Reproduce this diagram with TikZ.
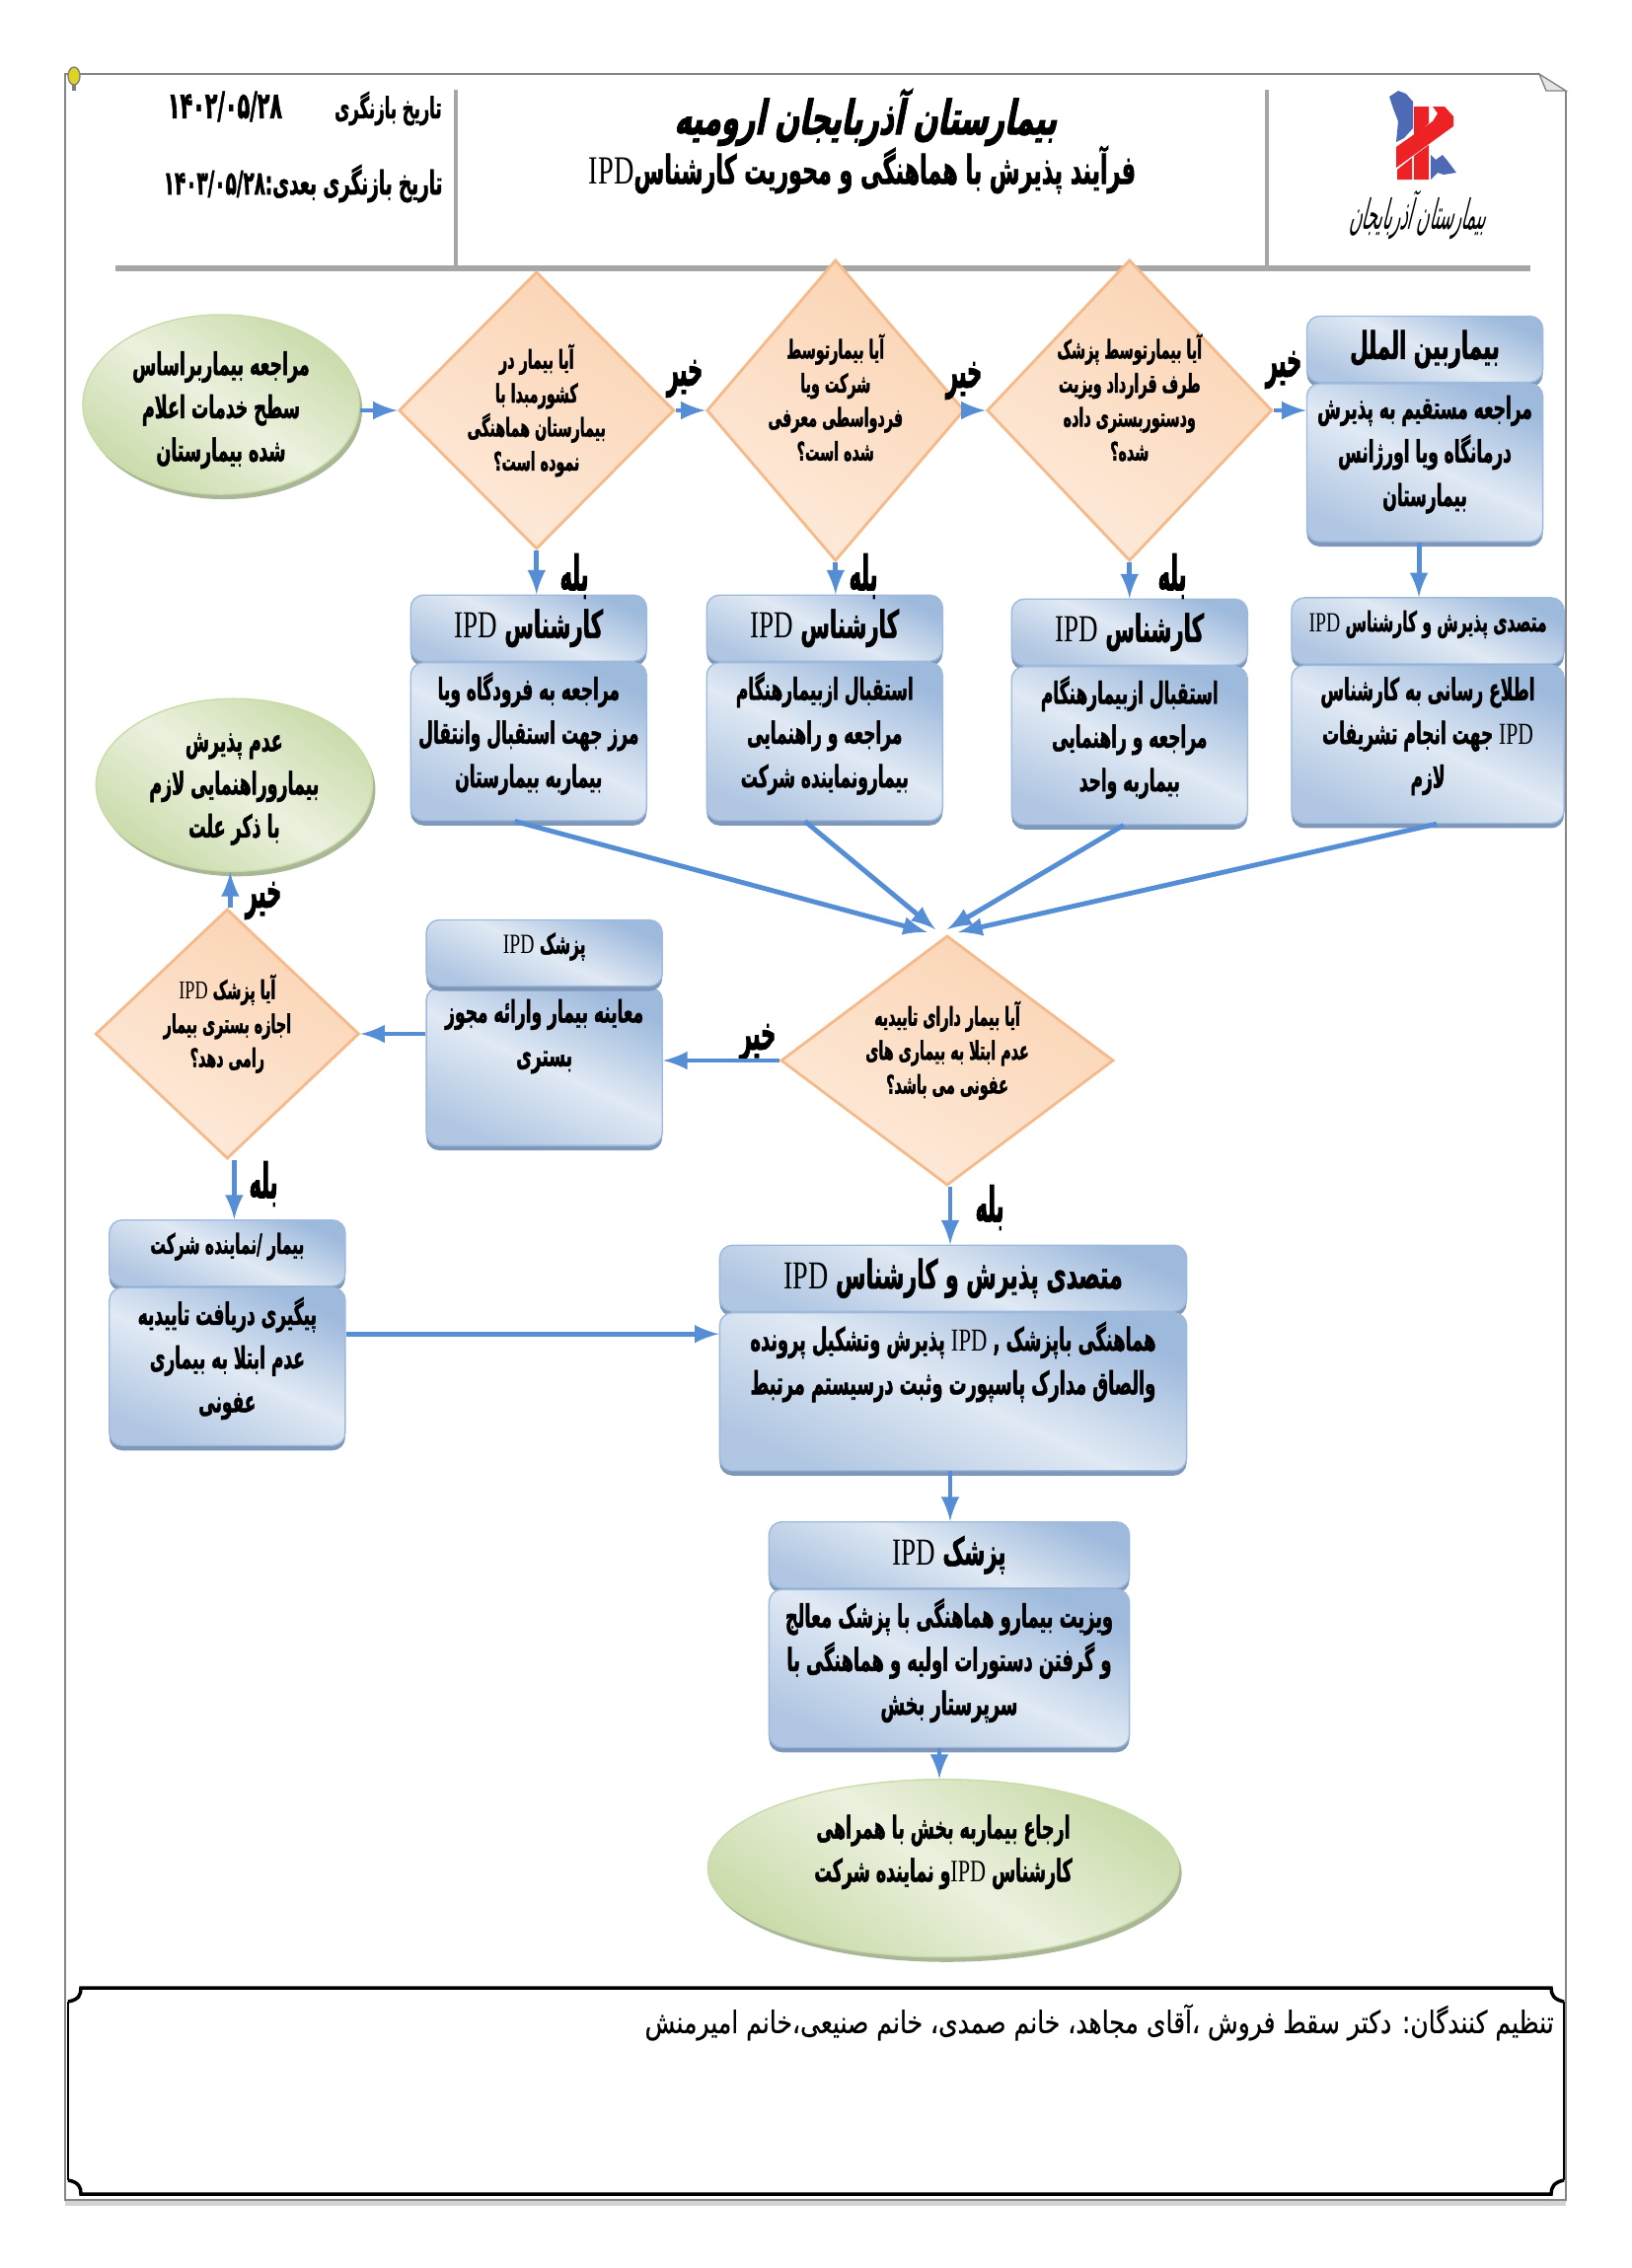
\documentclass[tikz,border=0pt]{standalone}
\usepackage{fontspec}
\usetikzlibrary{shapes.geometric,arrows,positioning,shadows}
\TeXXeTstate=1
\newfontfamily\arabicfont[Script=Arabic,FakeStretch=0.55,BoldFeatures={FakeBold=1.4}]{DejaVu Sans}
\newfontfamily\titlefont[Script=Arabic,FakeStretch=0.6,FakeSlant=0.2,BoldFeatures={FakeBold=2}]{DejaVu Sans}
\newfontfamily\plainfont[Script=Arabic,FakeStretch=0.8,FakeBold=.5]{DejaVu Sans}
\newfontfamily\answerfont[Script=Arabic,FakeStretch=0.42,BoldFeatures={FakeBold=1.6}]{DejaVu Sans}
\newfontfamily\logofont[Script=Arabic,FakeStretch=0.4]{DejaVu Sans}
\newfontfamily\latinfont[FakeStretch=0.7]{Liberation Serif}
\newcommand{\rtl}[1]{\beginR #1\endR}
\newcommand{\ipd}{{\latinfont\mdseries\beginL IPD\endL}}
\newcommand{\liftedtext}[2][.02cm]{\raisebox{#1}[0pt][0pt]{\begin{tabular}[c]{@{}c@{}}#2\end{tabular}}}
\definecolor{flow}{HTML}{558ED5}
\definecolor{bluedark}{HTML}{9DB9DC}
\definecolor{bluepale}{HTML}{B0C6E2}
\definecolor{bluelight}{HTML}{E0E9F4}
\definecolor{blueshadow}{HTML}{7F97B8}
\definecolor{peachdark}{HTML}{FBD4B4}
\definecolor{peachlight}{HTML}{FDEADA}
\definecolor{peachline}{HTML}{F6B98A}
\definecolor{greendark}{HTML}{CADBAA}
\definecolor{greenlight}{HTML}{EBF1DE}
\definecolor{greenshadow}{HTML}{A9B796}
\definecolor{frame}{HTML}{A6A6A6}
\definecolor{logoblue}{HTML}{4F6AB5}
\definecolor{logored}{HTML}{ED2224}
\tikzstyle{terminal} = [ellipse, inner sep=0pt, align=center, draw=greendark, top color=greendark, bottom color=greendark, middle color=greenlight, shading angle=-35, drop shadow={shadow xshift=.03cm, shadow yshift=-.05cm, fill=greenshadow, opacity=1}, font=\arabicfont\bfseries\fontsize{9}{12.4}\selectfont]
\tikzstyle{decision} = [diamond, inner sep=0pt, align=center, draw=peachline, thick, top color=peachdark, bottom color=peachlight, shading angle=-30, font=\arabicfont\bfseries\fontsize{7.4}{9.8}\selectfont]
\tikzstyle{headbox} = [rectangle, rounded corners=.13cm, inner sep=1pt, align=center, draw=bluedark, top color=bluedark, bottom color=bluepale, middle color=bluelight, shading angle=-25, drop shadow={shadow xshift=0cm, shadow yshift=-.05cm, fill=blueshadow, opacity=1}, minimum width=2.39cm, minimum height=.67cm, font=\arabicfont\bfseries\fontsize{11}{14}\selectfont]
\tikzstyle{smallhead} = [text depth=.2cm, font=\arabicfont\bfseries\fontsize{8}{10}\selectfont]
\tikzstyle{bodybox} = [headbox, minimum height=1.6cm, text depth=.24cm, font=\arabicfont\bfseries\fontsize{8.8}{12.6}\selectfont]
\tikzstyle{widebody} = [font=\arabicfont\bfseries\fontsize{9.2}{12.6}\selectfont]
\tikzstyle{answer} = [font=\answerfont\bfseries\fontsize{14}{16}\selectfont]
\tikzstyle{arrow} = [draw=flow, line width=1.4pt, ->, >=latex]
\begin{document}
\begin{tikzpicture}[x=.01cm, y=-.01cm]
    \useasboundingbox (0,0) rectangle (1654,2299);
    % page
    \fill[frame!50] (66,2230) rectangle (1587,2236);
    \draw[frame!80!black, thin] (1560,75) -- (66,75) -- (66,2230) -- (1587,2230) -- (1587,92);
    \filldraw[draw=frame!80!black, fill=black!10, thin] (1560,75) -- (1587,92) -- (1567,92) -- cycle;
    \filldraw[draw=black!50, fill=yellow!85!black, thin] (75,77) ellipse (6 and 9);
    \draw[black!50, line width=1pt] (75,86) -- (75,92);
    % header
    \draw[frame, line width=1.4pt] (462,91) -- (462,272);
    \draw[frame, line width=1.4pt] (1284,91) -- (1284,272);
    \draw[frame, line width=1.8pt] (117,272) -- (1551,272);
    \node (review) [anchor=east, font=\arabicfont\bfseries\fontsize{8.5}{10}\selectfont] at (460,110) {\rtl{تاریخ بازنگری}};
    \node (reviewdate) [font=\arabicfont\bfseries\fontsize{10.7}{12}\selectfont] at (228,108) {\beginL ۱۴۰۲/۰۵/۲۸\endL};
    \node (nextreview) [anchor=east, font=\arabicfont\bfseries\fontsize{9.5}{11}\selectfont] at (461,186) {\rtl{تاریخ بازنگری بعدی:\beginL ۱۴۰۳/۰۵/۲۸\endL}};
    \node (hospital) [font=\titlefont\bfseries\fontsize{13.7}{16}\selectfont] at (877,119) {\rtl{بیمارستان آذربایجان ارومیه}};
    \node (processtitle) [font=\arabicfont\bfseries\fontsize{11.5}{15}\selectfont] at (874,172) {\rtl{فرآیند پذیرش با هماهنگی و محوریت کارشناس\ipd}};
    % logo
    \fill[logoblue] (1408,98) -- (1417,92) -- (1425,95) -- (1432,103) -- (1432,130) -- (1423,140) -- (1415,144) -- (1417,123) -- (1412,110) -- cycle;
    \fill[logoblue] (1450,157) -- (1455,162) -- (1462,157) -- (1467,163) -- (1476,175) -- (1463,177) -- (1457,175) -- (1450,182) -- cycle;
    \fill[logored] (1433,108) -- (1448,108) -- (1448,125) -- (1433,138) -- cycle;
    \fill[logored] (1452,108) -- (1464,108) -- (1473,118) -- (1473,128) -- (1415,170) -- (1415,149) -- (1452,123) -- (1457,115) -- cycle;
    \fill[logored] (1416,172) -- (1431,160) -- (1431,182) -- (1416,182) -- cycle;
    \fill[logored] (1433,158) -- (1448,147) -- (1448,182) -- (1433,182) -- cycle;
    \node (logotext) [xslant=.25, font=\logofont\fontsize{12}{14}\selectfont] at (1440,218) {\rtl{بیمارستان آذربایجان}};

    % first row
    \node (start) [terminal, minimum width=2.8cm, minimum height=1.82cm] at (224,410) {\liftedtext[-.13cm]{\rtl{مراجعه بیماربراساس}\\\rtl{سطح خدمات اعلام}\\\rtl{شده بیمارستان}}};
    \node (decision1) [decision, right=.38cm of start, yshift=-.06cm, minimum width=2.79cm, minimum height=2.81cm] {\rtl{آیا بیمار در}\\\rtl{کشورمبدا با}\\\rtl{بیمارستان هماهنگی}\\\rtl{نموده است؟}};
    \node (decision2) [decision, right=.3cm of decision1, minimum width=2.61cm, minimum height=3.05cm] {\liftedtext{\rtl{آیا بیمارتوسط}\\\rtl{شرکت ویا}\\\rtl{فردواسطی معرفی}\\\rtl{شده است؟}}};
    \node (decision3) [decision, right=.2cm of decision2, minimum width=2.89cm, minimum height=3.05cm] {\liftedtext{\rtl{آیا بیمارتوسط پزشک}\\\rtl{طرف قرارداد ویزیت}\\\rtl{ودستوربستری داده}\\\rtl{شده؟}}};
    \node (title4) [headbox, right=.33cm of decision3, yshift=.62cm] {\rtl{بیماربین الملل}};
    \node (process4) [bodybox, below=0cm of title4] {\rtl{مراجعه مستقیم به پذیرش}\\\rtl{درمانگاه ویا اورژانس}\\\rtl{بیمارستان}};

    % second row
    \node (title1) [headbox, below=.445cm of decision1, xshift=-.08cm] {\rtl{کارشناس \ipd}};
    \node (process1) [bodybox, below=0cm of title1] {\rtl{مراجعه به فرودگاه ویا}\\\rtl{مرز جهت استقبال وانتقال}\\\rtl{بیماربه بیمارستان}};
    \node (title2) [headbox, below=.325cm of decision2, xshift=-.11cm] {\rtl{کارشناس \ipd}};
    \node (process2) [bodybox, below=0cm of title2] {\rtl{استقبال ازبیمارهنگام}\\\rtl{مراجعه و راهنمایی}\\\rtl{بیمارونماینده شرکت}};
    \node (title3) [headbox, below=.365cm of decision3] {\rtl{کارشناس \ipd}};
    \node (process3) [bodybox, below=0cm of title3] {\rtl{استقبال ازبیمارهنگام}\\\rtl{مراجعه و راهنمایی}\\\rtl{بیماربه واحد}};
    \node (title5) [headbox, smallhead, below=.555cm of process4, xshift=.03cm, minimum width=2.76cm] {\rtl{متصدی پذیرش و کارشناس \ipd}};
    \node (process5) [bodybox, below=0cm of title5, minimum width=2.76cm] {\rtl{اطلاع رسانی به کارشناس}\\\rtl{\ipd{} جهت انجام تشریفات}\\\rtl{لازم}};

    % third row
    \node (decision4) [decision, minimum width=3.37cm, minimum height=2.53cm] at (960,1075) {\liftedtext{\rtl{آیا بیمار دارای تاییدیه}\\\rtl{عدم ابتلا به بیماری های}\\\rtl{عفونی می باشد؟}}};
    \node (process6) [bodybox, left=1.18cm of decision4, yshift=-.06cm] {\rtl{معاینه بیمار وارائه مجوز}\\\rtl{بستری}\\\mbox{}};
    \node (title6) [headbox, smallhead, above=0cm of process6] {\rtl{پزشک \ipd}};
    \node (decision5) [decision, left=.66cm of process6, yshift=.33cm, minimum width=2.67cm, minimum height=2.53cm] {\liftedtext{\rtl{آیا پزشک \ipd}\\\rtl{اجازه بستری بیمار}\\\rtl{رامی دهد؟}}};
    \node (refuse) [terminal, above=.36cm of decision5, xshift=.07cm, minimum width=2.8cm, minimum height=1.75cm] {\liftedtext[-.088cm]{\rtl{عدم پذیرش}\\\rtl{بیماروراهنمایی لازم}\\\rtl{با ذکر علت}}};
    \node (title7) [headbox, smallhead, below=.6cm of decision5, xshift=0cm] {\rtl{بیمار /نماینده شرکت}};
    \node (process7) [bodybox, below=0cm of title7] {\rtl{پیگیری دریافت تاییدیه}\\\rtl{عدم ابتلا به بیماری}\\\rtl{عفونی}};

    % last column
    \node (title8) [headbox, below=.585cm of decision4, xshift=.06cm, minimum width=4.73cm, font=\arabicfont\bfseries\fontsize{11.4}{14}\selectfont] {\rtl{متصدی پذیرش و کارشناس \ipd}};
    \node (process8) [bodybox, widebody, below=0cm of title8, minimum width=4.73cm] {\rtl{هماهنگی باپزشک , \ipd{} پذیرش وتشکیل پرونده}\\\rtl{والصاق مدارک پاسپورت وثبت درسیستم مرتبط}\\\mbox{}};
    \node (title9) [headbox, below=.505cm of process8, xshift=-.04cm, minimum width=3.65cm] {\rtl{پزشک \ipd}};
    \node (process9) [bodybox, widebody, below=0cm of title9, minimum width=3.65cm] {\rtl{ویزیت بیمارو هماهنگی با پزشک معالج}\\\rtl{و گرفتن دستورات اولیه و هماهنگی با}\\\rtl{سرپرستار بخش}};
    \node (end) [terminal, below=.31cm of process9, xshift=-.06cm, minimum width=4.77cm, minimum height=1.8cm] {\liftedtext[.09cm]{\rtl{ارجاع بیماربه بخش با همراهی}\\\rtl{کارشناس \ipd و نماینده شرکت}}};

    % answers
    \node (no1) [answer] at (694,384) {\rtl{خیر}};
    \node (no2) [answer] at (977,386) {\rtl{خیر}};
    \node (no3) [answer] at (1301,375) {\rtl{خیر}};
    \node (no4) [answer] at (267,913) {\rtl{خیر}};
    \node (no5) [answer] at (768,1057) {\rtl{خیر}};
    \node (yes1) [answer] at (582,584) {\rtl{بله}};
    \node (yes2) [answer] at (875,584) {\rtl{بله}};
    \node (yes3) [answer] at (1188,584) {\rtl{بله}};
    \node (yes4) [answer] at (267,1200) {\rtl{بله}};
    \node (yes5) [answer] at (1003,1224) {\rtl{بله}};

    % ends of the four slanted lines
    \coordinate (in1) at ([xshift=-.2cm, yshift=.02cm]decision4.north);
    \coordinate (in2) at ([xshift=-.12cm, yshift=.05cm]decision4.north);
    \coordinate (in3) at ([xshift=0cm, yshift=.05cm]decision4.north);
    \coordinate (in4) at ([xshift=.11cm, yshift=.02cm]decision4.north);

    \draw[arrow] (start.east |- decision1.west) -- (decision1.west);
    \draw[arrow] (decision1) -- (decision2);
    \draw[arrow] (decision2) -- (decision3);
    \draw[arrow] (decision3) -- (decision3 -| title4.west);
    \draw[arrow] (decision1.south) -- (decision1.south |- title1.north);
    \draw[arrow] (decision2.south) -- (decision2.south |- title2.north);
    \draw[arrow] (decision3.south) -- (decision3.south |- title3.north);
    \draw[arrow] ([xshift=-.06cm]process4.south) -- ([xshift=-.06cm]process4.south |- title5.north);
    \draw[arrow] ([xshift=-.14cm]process1.south) -- (in1);
    \draw[arrow] ([xshift=-.2cm]process2.south) -- (in2);
    \draw[arrow] ([xshift=-.06cm]process3.south) -- (in3);
    \draw[arrow] ([xshift=.09cm]process5.south) -- (in4);
    \draw[arrow] (decision4.west) -- (decision4.west -| process6.east);
    \draw[arrow] (process6.west |- decision5.east) -- (decision5.east);
    \draw[arrow] ([xshift=.03cm]decision5.north) -- ([xshift=.03cm]decision5.north |- refuse.south);
    \draw[arrow] ([xshift=.07cm]decision5.south) -- ([xshift=.07cm]decision5.south |- title7.north);
    \draw[arrow] ([xshift=.03cm]decision4.south) -- ([xshift=.03cm]decision4.south |- title8.north);
    \draw[arrow] ([yshift=.33cm]process7.east) -- ([yshift=.33cm]process7.east -| process8.west);
    \draw[arrow] ([xshift=-.03cm]process8.south) -- ([xshift=-.03cm]process8.south |- title9.north);
    \draw[arrow] ([xshift=-.1cm]process9.south) -- ([xshift=-.1cm]process9.south |- end.north);

    % bottom box
    \draw[black, line width=.5pt] (69,2029) -- (69,2210);
    \draw[black, line width=.5pt] (1585,2029) -- (1585,2210);
    \draw[black, line width=1pt] (69,2029) .. controls (80,2027) and (82,2022) .. (82,2015) -- (1572,2015) .. controls (1572,2022) and (1575,2027) .. (1585,2029);
    \draw[black, line width=1pt] (69,2210) .. controls (80,2212) and (82,2217) .. (82,2224) -- (1572,2224) .. controls (1572,2217) and (1575,2212) .. (1585,2210);
    \node (authors) [anchor=east, font=\plainfont\fontsize{8.9}{10}\selectfont] at (1587,2050) {\rtl{تنظیم کنندگان: دکتر سقط فروش ،آقای مجاهد، خانم صمدی، خانم صنیعی،خانم امیرمنش}};
  \end{tikzpicture}
\end{document}
